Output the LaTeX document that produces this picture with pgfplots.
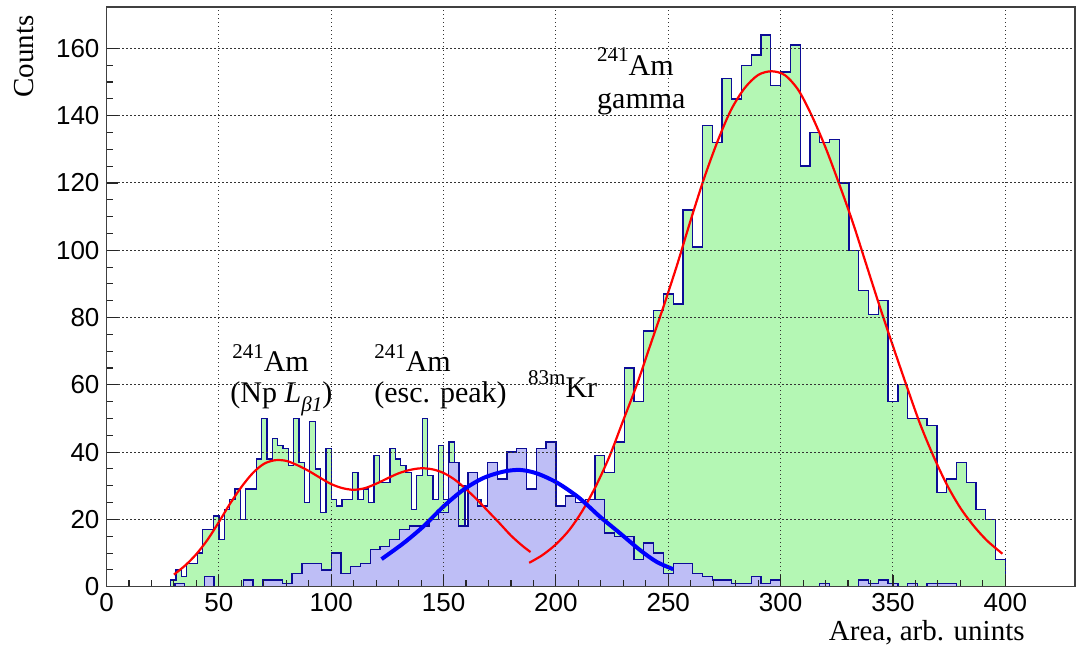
\documentclass[border=0pt]{standalone}
\usepackage{fontspec}
\setmainfont{Liberation Serif}
\newfontfamily\arial{Liberation Sans}
\usepackage{pgfplots}
\usepackage{pgfplotstable}
\pgfplotsset{compat=1.18}

\definecolor{histgreen}{RGB}{180,247,180}
\definecolor{histblue}{RGB}{190,190,246}
\definecolor{histline}{RGB}{12,12,150}

% Am spectrum, fine binning (bin width 400/168), bin index k and counts
\pgfplotstableread{
k n
12 0
12 2
13 5
14 3
15 7
16 7
17 10
18 17
19 17
20 21
21 14
22 23
23 26
24 29
25 20
26 29
27 29
28 38
29 50
30 38
31 44
32 42
33 41
34 36
35 50
36 37
37 25
38 49
39 35
40 22
41 41
42 26
43 24
44 26
45 26
46 34
47 26
48 29
49 25
50 39
51 31
52 31
53 41
54 38
55 36
56 34
57 23
58 33
59 50
60 33
61 26
62 42
63 26
64 43
65 37
66 30
67 18
68 28
69 26
70 22
71 24
72 20
73 17
74 15
75 13
76 12
77 10
78 9
79 14
80 0
}\amlow

% Am gamma line, coarse binning (bin width 400/92)
\pgfplotstableread{
j n
43 0
43 7
44 9
45 11
46 13
47 17
48 20
49 24
50 39
51 34
52 43
53 65
54 55
55 76
56 82
57 87
58 84
59 112
60 101
61 137
62 132
63 151
64 145
65 155
66 158
67 164
68 149
69 153
70 161
71 125
72 135
73 132
74 133
75 120
76 100
77 88
78 81
79 85
80 55
81 60
82 50
83 50
84 48
85 28
86 32
87 37
88 31
89 23
90 20
91 8
92 0
}\amgamma

% 83mKr spectrum, coarse binning (bin width 400/92)
\pgfplotstableread{
j n
7 0
7 1
8 0
9 0
10 3
11 0
12 0
13 0
14 2
15 0
16 2
17 2
18 1
19 4
20 7
21 7
22 5
23 10
24 4
25 6
26 7
27 11
28 12
29 14
30 17
31 18
32 18
33 20
34 22
35 37
36 18
37 34
38 24
39 37
40 32
41 40
42 41
43 29
44 41
45 43
46 24
47 27
48 25
49 26
50 26
51 16
52 15
53 15
54 8
55 13
56 10
57 4
58 7
59 7
60 4
61 3
62 2
63 2
64 1
65 1
66 3
67 1
68 2
69 0
70 0
71 0
72 0
73 1
74 0
75 0
76 0
77 2
78 1
79 2
80 1
81 0
82 1
83 0
84 1
85 1
86 1
87 0
}\kr

\newcommand\iso[1]{\raisebox{0.45em}{\fontsize{10.5}{10.5}\selectfont #1}}
\newcommand\annfont{\fontsize{15}{15}\selectfont}

\begin{document}
\begin{tikzpicture}[x=1pt,y=1pt]
\begin{axis}[
  at={(0,0)}, anchor=south west,
  width=484.25pt, height=289.85pt, scale only axis,
  xmin=0, xmax=431, ymin=0, ymax=172.3,
  xtick={0,50,...,400}, ytick={0,20,...,160},
  minor x tick num=4, minor y tick num=3,
  tick align=inside, xtick pos=bottom, ytick pos=left,
  major tick length=6pt, minor tick length=3.5pt,
  grid=major,
  major grid style={black!80, line width=0.5pt, dash pattern=on 0.6pt off 1.4pt},
  axis on top,
  axis line style={black!75, line width=0.6pt},
  tick style={black!85, line width=0.55pt},
  /pgf/number format/assume math mode=true,
  tick label style={font=\arial\fontsize{13}{13}\selectfont},
]
% Am, fine binning
\addplot[const plot, fill=histgreen, draw=histline, line width=0.65pt]
  table[x expr=\thisrow{k}*400/168, y=n] {\amlow};
% Am gamma, coarse binning
\addplot[const plot, fill=histgreen, draw=histline, line width=0.65pt]
  table[x expr=\thisrow{j}*400/92, y=n] {\amgamma};
% 83mKr
\addplot[const plot, fill=histblue, draw=histline, line width=0.65pt]
  table[x expr=\thisrow{j}*400/92, y=n] {\kr};

% fit: Np L-beta1 + escape peak
\addplot[red, line width=1.1pt, smooth] coordinates {
(30.0,3.6)(35.0,6.3)(40.0,9.7)(45.0,14.0)(50.0,19.2)(55.0,24.7)(60.0,29.6)
(65.0,33.7)(70.0,36.5)(75.0,37.6)(80.0,37.4)(85.0,36.1)(90.0,34.4)(95.0,32.4)
(100.0,30.5)(105.0,29.3)(110.0,28.8)(115.0,29.3)(120.0,30.6)(125.0,32.2)
(130.0,33.7)(135.0,34.7)(140.0,35.2)(145.0,34.9)(150.0,33.8)(155.0,31.8)
(160.0,29.0)(165.0,25.8)(170.0,22.3)(175.0,18.8)(180.0,15.2)(185.0,12.2)(188.7,10.3)};
% fit: Am gamma line
\addplot[red, line width=1.1pt, smooth] coordinates {
(188.1,7.1)(194,9.4)(200,12.6)(206,16.9)(212,22.8)(218,30.2)(224,39.0)
(230,49.5)(236,60.0)(242,71.8)(248,83.5)(254,95.8)(260,109.0)(266,121.5)
(272,132.5)(278,141.8)(284,148.2)(290,152.1)(296,153.2)(302,152.0)(308,147.5)
(314,139.8)(320,130.5)(326,119.8)(332,108.5)(338,96.0)(344,83.5)(350,71.5)
(356,59.8)(362,48.5)(368,38.8)(374,30.3)(380,23.4)(386,18.0)(392,13.6)(398.7,9.8)};
% fit: 83mKr
\addplot[blue, line width=2pt, smooth] coordinates {
(122.4,8.2)(132.1,12.9)(141.0,17.9)(149.9,23.8)(158.8,28.8)(167.7,32.3)
(176.6,34.2)(184.0,34.7)(191.4,33.7)(200.3,31.0)(209.2,27.0)(214.4,24.0)
(219.6,20.8)(228.5,15.9)(237.4,10.9)(244.8,7.4)(252.2,5.2)};

\node[anchor=base west, inner sep=0, font=\annfont] at (axis cs:55.8,63.9) {\iso{241}Am};
\node[anchor=base west, inner sep=0, font=\annfont] at (axis cs:55.0,54.7) {(Np \textit{L}\raisebox{-0.3em}{\fontsize{10.5}{10.5}\selectfont\textit{β1}})};
\node[anchor=base west, inner sep=0, font=\annfont] at (axis cs:119.0,63.9) {\iso{241}Am};
\node[anchor=base west, inner sep=0, font=\annfont] at (axis cs:119.0,54.7) {(esc. peak)};
\node[anchor=base west, inner sep=0, font=\annfont] at (axis cs:187.5,56.2) {\iso{83m}Kr};
\node[anchor=base west, inner sep=0, font=\annfont] at (axis cs:218.2,152.0) {\iso{241}Am};
\node[anchor=base west, inner sep=0, font=\annfont] at (axis cs:218.2,142.1) {gamma};
\end{axis}
\node[rotate=90, anchor=east, inner sep=0, font=\fontsize{14.5}{14.5}\selectfont] at (-41.25,285.85) {Counts};
\node[anchor=base east, inner sep=0, font=\fontsize{14.5}{14.5}\selectfont] at (459.25,-26.65) {Area, arb. unints};
\pgfresetboundingbox
\useasboundingbox (-53.25,-31.65) rectangle (485.75,293.35);
\end{tikzpicture}
\end{document}
